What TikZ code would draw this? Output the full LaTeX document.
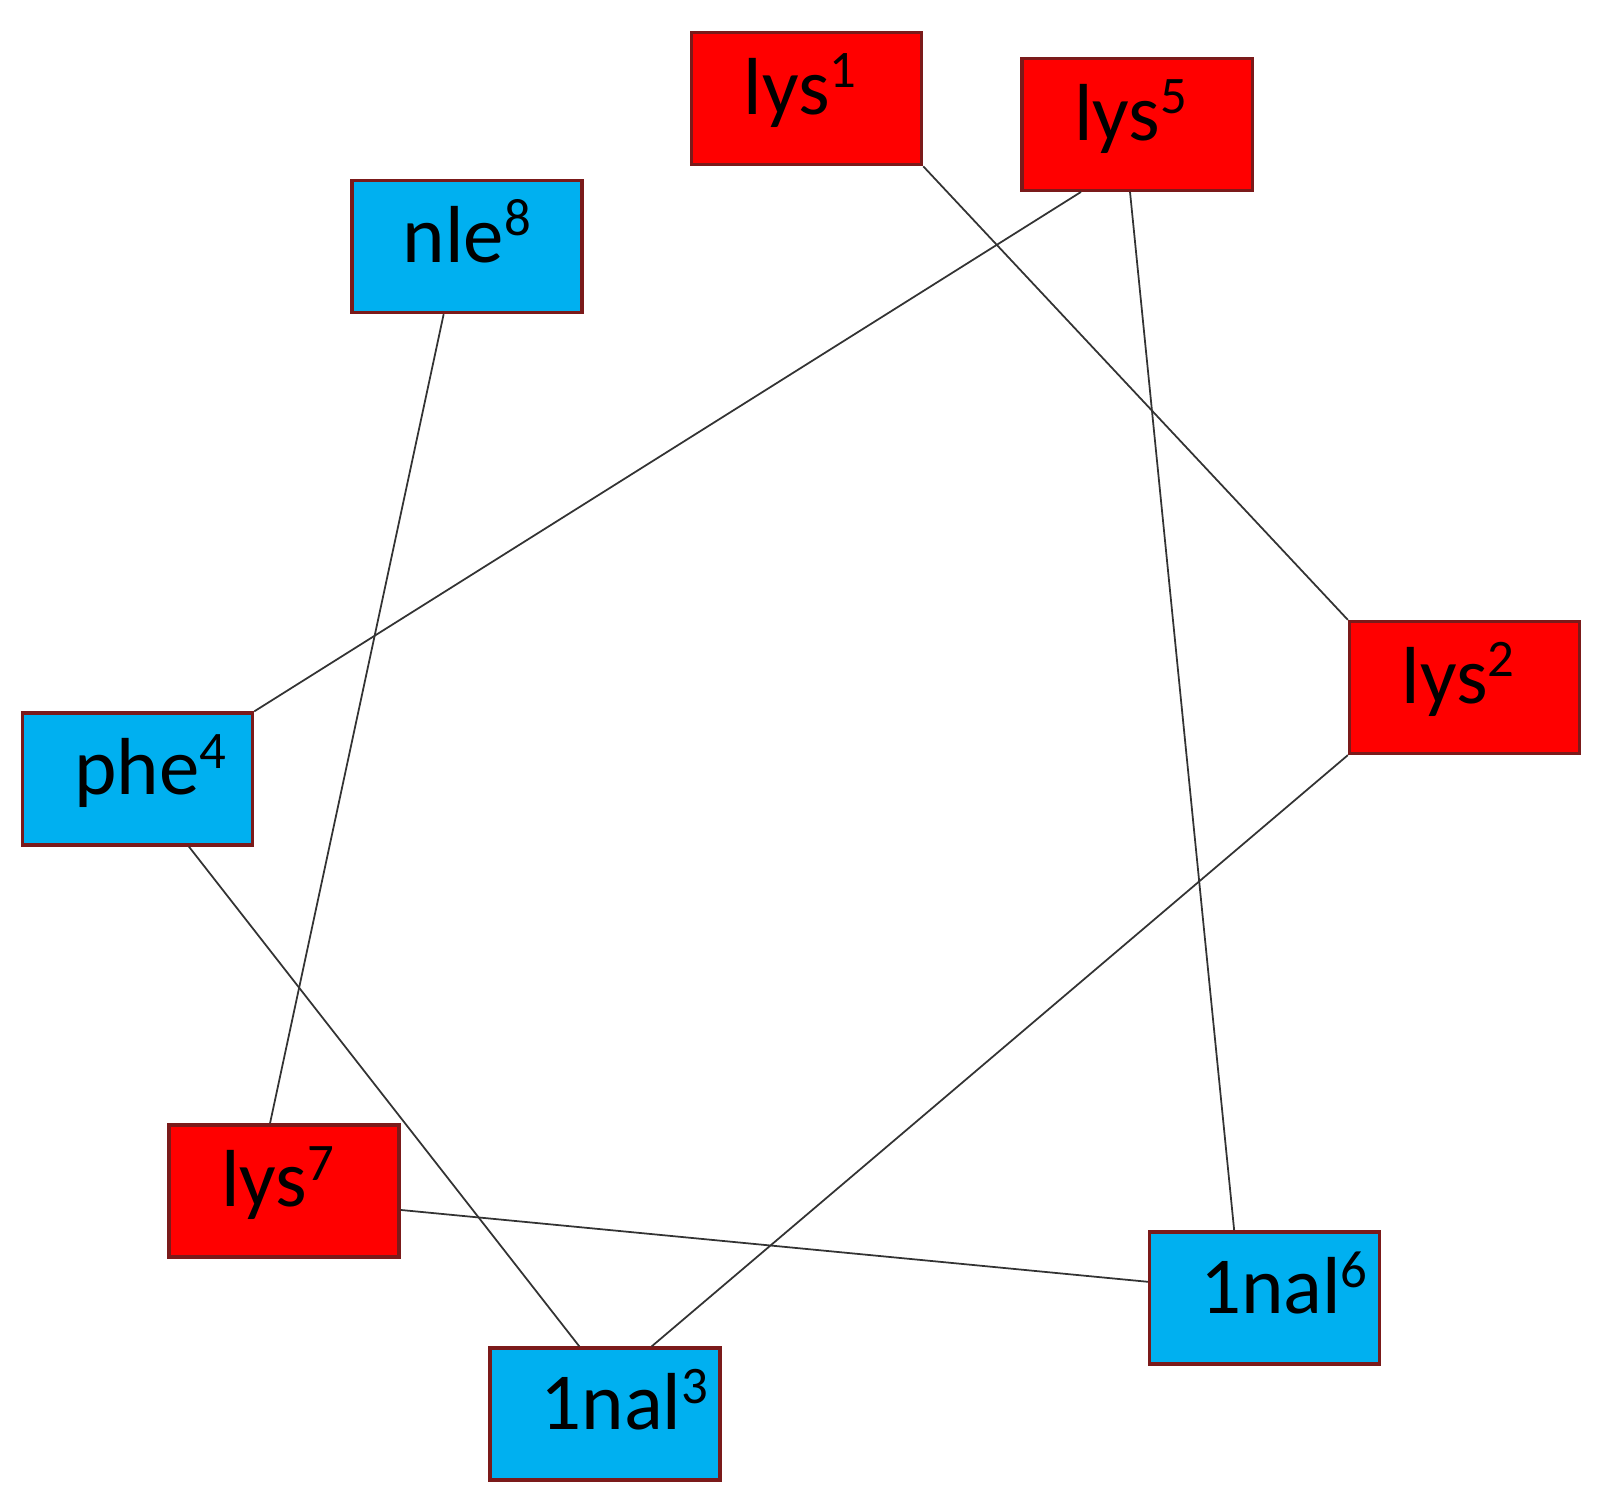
\documentclass[tikz,border=0pt]{standalone}
\usepackage{fontspec}
\setmainfont{Carlito}
\usetikzlibrary{calc}
\definecolor{boxred}{HTML}{FF0000}
\definecolor{boxblue}{HTML}{00B0F0}
\definecolor{edgered}{HTML}{7B1A1A}
\newcommand\supx[1]{\raisebox{7.6pt}{\fontsize{15}{15}\selectfont #1}}
\tikzset{
  resbox/.style={draw=edgered, line width=0.9pt, minimum width=2.30cm, minimum height=1.32cm,
    inner sep=0pt, text height=15pt, text depth=6pt, font=\fontsize{23}{27}\selectfont},
  redbox/.style={resbox, fill=boxred},
  bluebox/.style={resbox, fill=boxblue},
  link/.style={draw=black!80, line width=0.5pt}
}
\begin{document}
\begin{tikzpicture}[x={(0.01cm,0)}, y={(0,-0.01cm)}]
\useasboundingbox (0,0) rectangle (1604,1506);
\node[redbox]  (lys1) at (806.6,98.7)  {lys\supx{1}\hspace*{3.7pt}};
\node[redbox]  (lys5) at (1137,124.3)  {lys\supx{5}\hspace*{3.7pt}};
\node[bluebox] (nle8) at (467,246.5)   {nle\supx{8}};
\node[redbox]  (lys2) at (1464.5,687.5) {lys\supx{2}\hspace*{3.7pt}};
\node[bluebox] (phe4) at (137.6,779)   {\hspace*{7.3pt}phe\supx{4}};
\node[redbox]  (lys7) at (284,1191)    {lys\supx{7}\hspace*{3.7pt}};
\node[bluebox] (n6)   at (1264.5,1298) {\hspace*{11pt}1nal\supx{6}};
\node[bluebox] (n3)   at (605,1414)    {\hspace*{11pt}1nal\supx{3}};
\draw[link] (lys1.south east) -- (lys2.north west);
\draw[link] ($(lys5.south west)!0.26!(lys5.south east)$) -- (phe4.north east);
\draw[link] ($(lys5.south west)!0.47!(lys5.south east)$) -- ($(n6.north west)!0.37!(n6.north east)$);
\draw[link] ($(nle8.south west)!0.40!(nle8.south east)$) -- ($(lys7.north west)!0.44!(lys7.north east)$);
\draw[link] (lys2.south west) -- ($(n3.north west)!0.70!(n3.north east)$);
\draw[link] ($(phe4.south west)!0.72!(phe4.south east)$) -- ($(n3.north west)!0.39!(n3.north east)$);
\draw[link] ($(lys7.north east)!0.64!(lys7.south east)$) -- ($(n6.north west)!0.38!(n6.south west)$);
\end{tikzpicture}
\end{document}
